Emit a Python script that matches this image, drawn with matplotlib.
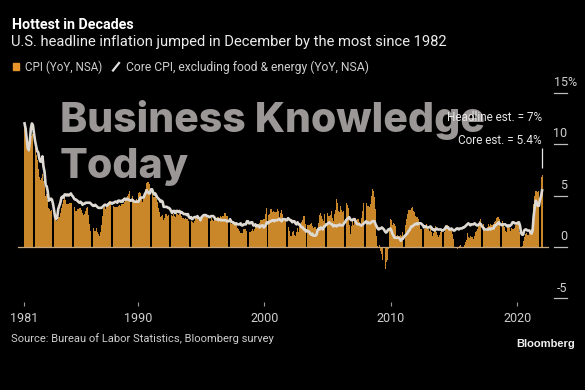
import numpy as np
import matplotlib
matplotlib.use("Agg")
import matplotlib.pyplot as plt

# ------------------------------------------------------------
# Data: monthly YoY %, Jan 1981 - Dec 2021
# ------------------------------------------------------------
start_year = 1981
cpi_rows = [
    [11.8, 11.4, 10.5, 10.0, 9.8, 9.6, 10.8, 10.8, 11.0, 10.1, 9.6, 8.9],   # 1981
    [8.4, 7.6, 6.8, 6.5, 6.7, 7.1, 6.4, 5.9, 5.0, 5.1, 4.6, 3.8],
    [3.7, 3.5, 3.6, 3.9, 3.5, 2.6, 2.5, 2.6, 2.9, 2.9, 3.3, 3.8],
    [4.2, 4.6, 4.8, 4.6, 4.2, 4.2, 4.2, 4.3, 4.3, 4.3, 4.1, 3.9],
    [3.5, 3.5, 3.7, 3.7, 3.8, 3.8, 3.6, 3.3, 3.1, 3.2, 3.5, 3.8],
    [3.9, 3.1, 2.2, 1.6, 1.5, 1.8, 1.6, 1.6, 1.8, 1.5, 1.3, 1.1],
    [1.5, 2.1, 3.0, 3.8, 3.9, 3.7, 3.9, 4.3, 4.4, 4.5, 4.5, 4.4],
    [4.0, 3.9, 3.9, 3.9, 3.9, 4.0, 4.1, 4.0, 4.2, 4.2, 4.2, 4.4],
    [4.7, 4.8, 5.0, 5.1, 5.4, 5.2, 5.0, 4.7, 4.3, 4.5, 4.7, 4.6],
    [5.2, 5.3, 5.2, 4.7, 4.4, 4.7, 4.8, 5.6, 6.2, 6.3, 6.3, 6.1],   # 1990
    [5.7, 5.3, 4.9, 4.9, 5.0, 4.7, 4.4, 3.8, 3.4, 2.9, 3.0, 3.1],
    [2.6, 2.8, 3.2, 3.2, 3.0, 3.1, 3.2, 3.1, 3.0, 3.2, 3.0, 2.9],
    [3.3, 3.2, 3.1, 3.2, 3.2, 3.0, 2.8, 2.8, 2.7, 2.8, 2.7, 2.7],
    [2.5, 2.5, 2.5, 2.4, 2.3, 2.5, 2.8, 2.9, 3.0, 2.6, 2.7, 2.7],
    [2.8, 2.9, 2.9, 3.1, 3.2, 3.0, 2.8, 2.6, 2.5, 2.8, 2.6, 2.5],
    [2.7, 2.7, 2.8, 2.9, 2.9, 2.8, 3.0, 2.9, 3.0, 3.0, 3.3, 3.3],
    [3.0, 3.0, 2.8, 2.5, 2.2, 2.3, 2.2, 2.2, 2.2, 2.1, 1.8, 1.7],
    [1.6, 1.4, 1.4, 1.4, 1.7, 1.7, 1.7, 1.6, 1.5, 1.5, 1.5, 1.6],
    [1.7, 1.6, 1.7, 2.3, 2.1, 2.0, 2.1, 2.3, 2.6, 2.6, 2.6, 2.7],
    [2.7, 3.2, 3.8, 3.1, 3.2, 3.7, 3.7, 3.4, 3.5, 3.4, 3.4, 3.4],   # 2000
    [3.7, 3.5, 2.9, 3.3, 3.6, 3.2, 2.7, 2.7, 2.6, 2.1, 1.9, 1.6],
    [1.1, 1.1, 1.5, 1.6, 1.2, 1.1, 1.5, 1.8, 1.5, 2.0, 2.2, 2.4],
    [2.6, 3.0, 3.0, 2.2, 2.1, 2.1, 2.1, 2.2, 2.3, 2.0, 1.8, 1.9],
    [1.9, 1.7, 1.7, 2.3, 3.1, 3.3, 3.0, 2.7, 2.5, 3.2, 3.5, 3.3],
    [3.0, 3.0, 3.1, 3.5, 2.8, 2.5, 3.2, 3.6, 4.7, 4.3, 3.5, 3.4],
    [4.0, 3.6, 3.4, 3.5, 4.2, 4.3, 4.1, 3.8, 2.1, 1.3, 2.0, 2.5],
    [2.1, 2.4, 2.8, 2.6, 2.7, 2.7, 2.4, 2.0, 2.8, 3.5, 4.3, 4.1],
    [4.3, 4.0, 4.0, 3.9, 4.2, 5.0, 5.6, 5.4, 4.9, 3.7, 1.1, 0.1],
    [0.0, 0.2, -0.4, -0.7, -1.3, -1.4, -2.1, -1.5, -1.3, -0.2, 1.8, 2.7],
    [2.6, 2.1, 2.3, 2.2, 2.0, 1.1, 1.2, 1.1, 1.1, 1.2, 1.1, 1.5],   # 2010
    [1.6, 2.1, 2.7, 3.2, 3.6, 3.6, 3.6, 3.8, 3.9, 3.5, 3.4, 3.0],
    [2.9, 2.9, 2.7, 2.3, 1.7, 1.7, 1.4, 1.7, 2.0, 2.2, 1.8, 1.7],
    [1.6, 2.0, 1.5, 1.1, 1.4, 1.8, 2.0, 1.5, 1.2, 1.0, 1.2, 1.5],
    [1.6, 1.1, 1.5, 2.0, 2.1, 2.1, 2.0, 1.7, 1.7, 1.7, 1.3, 0.8],
    [-0.1, 0.0, -0.1, -0.2, 0.0, 0.1, 0.2, 0.2, 0.0, 0.2, 0.5, 0.7],
    [1.4, 1.0, 0.9, 1.1, 1.0, 1.0, 0.8, 1.1, 1.5, 1.6, 1.7, 2.1],
    [2.5, 2.7, 2.4, 2.2, 1.9, 1.6, 1.7, 1.9, 2.2, 2.0, 2.2, 2.1],
    [2.1, 2.2, 2.4, 2.5, 2.8, 2.9, 2.9, 2.7, 2.3, 2.5, 2.2, 1.9],
    [1.6, 1.5, 1.9, 2.0, 1.8, 1.6, 1.8, 1.7, 1.7, 1.8, 2.1, 2.3],
    [2.5, 2.3, 1.5, 0.3, 0.1, 0.6, 1.0, 1.3, 1.4, 1.2, 1.2, 1.4],   # 2020
    [1.4, 1.7, 2.6, 4.2, 5.0, 5.4, 5.4, 5.3, 5.4, 6.2, 6.8, 7.0],
]
core_rows = [
    [12.0, 11.5, 10.5, 9.6, 9.4, 10.2, 11.5, 12.0, 11.8, 11.0, 10.3, 9.8],  # 1981
    [9.3, 9.2, 8.6, 8.3, 8.3, 8.8, 7.8, 7.3, 6.0, 5.9, 5.4, 4.5],
    [4.6, 4.7, 4.6, 4.2, 3.6, 2.9, 2.7, 2.9, 3.7, 4.0, 4.3, 4.8],
    [4.9, 4.8, 5.1, 5.1, 5.0, 5.1, 5.0, 5.1, 5.2, 5.0, 4.9, 4.7],
    [4.6, 4.6, 4.5, 4.4, 4.3, 4.4, 4.3, 4.1, 4.2, 4.2, 4.3, 4.3],
    [4.3, 4.3, 4.3, 4.2, 4.1, 4.0, 4.0, 4.1, 4.0, 3.9, 3.8, 3.8],
    [3.8, 3.8, 3.9, 4.0, 4.1, 4.1, 4.0, 4.1, 4.2, 4.3, 4.3, 4.2],
    [4.3, 4.3, 4.4, 4.4, 4.3, 4.5, 4.5, 4.4, 4.5, 4.4, 4.6, 4.7],
    [4.6, 4.7, 4.6, 4.6, 4.5, 4.5, 4.6, 4.5, 4.4, 4.4, 4.4, 4.4],
    [4.4, 4.6, 4.8, 4.8, 4.8, 4.8, 5.1, 5.3, 5.5, 5.3, 5.2, 5.2],   # 1990
    [5.6, 5.6, 5.3, 5.1, 5.2, 5.0, 4.8, 4.7, 4.6, 4.4, 4.5, 4.4],
    [3.9, 3.9, 3.9, 3.9, 3.8, 3.8, 3.7, 3.5, 3.3, 3.5, 3.5, 3.3],
    [3.5, 3.5, 3.4, 3.5, 3.3, 3.4, 3.3, 3.2, 3.2, 3.2, 3.1, 3.2],
    [2.9, 2.8, 2.9, 2.7, 2.8, 2.9, 2.9, 2.9, 3.0, 2.8, 2.8, 2.6],
    [2.9, 3.0, 3.1, 3.1, 3.1, 3.0, 3.0, 2.9, 2.9, 3.0, 3.0, 3.0],
    [2.9, 2.7, 2.7, 2.7, 2.6, 2.7, 2.6, 2.6, 2.6, 2.6, 2.6, 2.6],
    [2.5, 2.5, 2.5, 2.7, 2.5, 2.4, 2.4, 2.3, 2.2, 2.3, 2.2, 2.2],
    [2.2, 2.3, 2.1, 2.1, 2.2, 2.2, 2.2, 2.5, 2.5, 2.3, 2.3, 2.4],
    [2.4, 2.1, 2.1, 2.2, 2.0, 2.1, 2.1, 1.9, 2.0, 2.1, 2.1, 1.9],
    [2.0, 2.2, 2.4, 2.3, 2.4, 2.5, 2.5, 2.6, 2.6, 2.5, 2.6, 2.6],   # 2000
    [2.6, 2.7, 2.7, 2.6, 2.5, 2.7, 2.7, 2.7, 2.6, 2.6, 2.8, 2.7],
    [2.6, 2.6, 2.4, 2.5, 2.5, 2.3, 2.2, 2.4, 2.2, 2.2, 2.0, 1.9],
    [1.9, 1.7, 1.7, 1.5, 1.6, 1.5, 1.5, 1.3, 1.2, 1.3, 1.1, 1.1],
    [1.1, 1.2, 1.6, 1.8, 1.7, 1.9, 1.8, 1.7, 2.0, 2.0, 2.2, 2.2],
    [2.3, 2.4, 2.3, 2.2, 2.2, 2.0, 2.1, 2.1, 2.0, 2.1, 2.1, 2.2],
    [2.1, 2.1, 2.1, 2.3, 2.4, 2.6, 2.7, 2.8, 2.9, 2.7, 2.6, 2.6],
    [2.7, 2.7, 2.5, 2.3, 2.2, 2.2, 2.2, 2.1, 2.1, 2.2, 2.3, 2.4],
    [2.5, 2.3, 2.4, 2.3, 2.3, 2.4, 2.5, 2.5, 2.5, 2.2, 2.0, 1.8],
    [1.7, 1.8, 1.8, 1.9, 1.8, 1.7, 1.5, 1.4, 1.5, 1.7, 1.7, 1.8],
    [1.6, 1.3, 1.1, 0.9, 0.9, 0.9, 0.9, 0.9, 0.8, 0.6, 0.8, 0.8],   # 2010
    [1.0, 1.1, 1.2, 1.3, 1.5, 1.6, 1.8, 2.0, 2.0, 2.1, 2.2, 2.2],
    [2.3, 2.2, 2.3, 2.3, 2.3, 2.2, 2.1, 1.9, 2.0, 2.0, 1.9, 1.9],
    [1.9, 2.0, 1.9, 1.7, 1.7, 1.6, 1.7, 1.8, 1.7, 1.7, 1.7, 1.7],
    [1.6, 1.6, 1.7, 1.8, 2.0, 1.9, 1.9, 1.7, 1.7, 1.8, 1.7, 1.6],
    [1.6, 1.7, 1.8, 1.8, 1.7, 1.8, 1.8, 1.8, 1.9, 1.9, 2.0, 2.1],
    [2.2, 2.3, 2.2, 2.1, 2.2, 2.2, 2.2, 2.3, 2.2, 2.1, 2.1, 2.2],
    [2.3, 2.2, 2.0, 1.9, 1.7, 1.7, 1.7, 1.7, 1.7, 1.8, 1.7, 1.8],
    [1.8, 1.8, 2.1, 2.1, 2.2, 2.3, 2.4, 2.2, 2.2, 2.1, 2.2, 2.2],
    [2.2, 2.1, 2.0, 2.1, 2.0, 2.1, 2.2, 2.4, 2.4, 2.3, 2.3, 2.3],
    [2.3, 2.4, 2.1, 1.4, 1.2, 1.2, 1.6, 1.7, 1.7, 1.6, 1.6, 1.6],   # 2020
    [1.4, 1.3, 1.6, 3.0, 3.8, 4.5, 4.3, 4.0, 4.0, 4.6, 4.9, 5.5],
]
cpi_yoy = np.concatenate(cpi_rows)
core_yoy = np.concatenate(core_rows)

x_ticks = [1981, 1990, 2000, 2010, 2020]
y_ticks = [-5, 0, 5, 10, 15]
headline_est = 7
core_est = 5.4

TITLE = "Hottest in Decades"
SUBTITLE = "U.S. headline inflation jumped in December by the most since 1982"
SOURCE = "Source: Bureau of Labor Statistics, Bloomberg survey"

# colours
BG = "black"
ORANGE = "#c98729"
LINE = "#dedad3"
TXT = "#cfcfcf"

plt.rcParams["font.family"] = ["Roboto", "DejaVu Sans"]

W, H = 585, 390
fig = plt.figure(figsize=(W / 100, H / 100), dpi=100, facecolor=BG)

# axes placed by pixel box
left, right, top, bottom = 10, 575, 85, 302
ax = fig.add_axes([left / W, 1 - bottom / H, (right - left) / W, (bottom - top) / H])
ax.set_facecolor(BG)

x = start_year + (np.arange(len(cpi_yoy)) + 0.5) / 12
ax.bar(x, cpi_yoy, width=1 / 12 * 0.9, color=ORANGE, linewidth=0, zorder=2)
ax.plot(x, core_yoy, color=LINE, lw=1.9, zorder=3, solid_joinstyle="round")
ax.axhline(0, xmin=(18 - left) / (right - left), xmax=(548 - left) / (right - left),
           color="#c9a77c", lw=0.9, zorder=4)

ax.set_xlim(1979.893, 2024.56)
ax.set_ylim(-5.34, 15.73)
for s in ax.spines.values():
    s.set_visible(False)

ax.set_xticks(x_ticks)
ax.set_xticklabels([str(t) for t in x_ticks])
ax.tick_params(axis="x", colors="#9a9a9a", length=3, width=0.8, pad=4,
               labelcolor=TXT, labelsize=9)
ax.set_yticks([])

# right-hand y ticks: short dashes with labels sitting above
ytr = ax.get_yaxis_transform()
x0, x1 = (554 - left) / (right - left), (567 - left) / (right - left)
for v in y_ticks:
    ax.plot([x0, x1], [v, v], transform=ytr, color="#bdbdbd", lw=0.9, clip_on=False)
    top_tick = v == max(y_ticks)
    ax.annotate(f"{v}%" if top_tick else str(v), xy=(x0 if top_tick else x1, v), xycoords=ytr,
                xytext=(0, 7.5), textcoords="offset points",
                ha="left" if top_tick else "right", va="center",
                color=TXT, fontsize=9)

# watermark (under the annotations)
for txt, base in [("Business Knowledge", 132), ("Today", 178)]:
    ax.text(60 / W, 1 - base / H, txt, transform=fig.transFigure, fontsize=29.5,
            fontweight="heavy", family=["Inter", "DejaVu Sans"], color="#9c9797",
            va="baseline", ha="left", zorder=1)

# estimates annotation
ax.text(x[-1], headline_est + 5.6, f"Headline est. = {headline_est}%", ha="right", va="center",
        color="#e6e6e6", fontsize=8.5, zorder=6)
ax.text(x[-1], core_est + 4.9, f"Core est. = {core_est}%", ha="right", va="center",
        color="#e6e6e6", fontsize=8.5, zorder=6)
ax.vlines(x[-1], headline_est + 0.7, headline_est + 2.6, color="#e6e6e6", lw=0.9)

# header
fig.text(12 / W, 1 - 25 / H, TITLE, fontsize=10.3, fontweight="bold", color="white", va="center")
fig.text(11 / W, 1 - 42 / H, SUBTITLE, fontsize=10.6, color="#ececec", va="center")

# legend row
fig.patches.append(plt.Rectangle((13 / W, 1 - 70 / H), 6 / W, 7 / H, transform=fig.transFigure,
                                 color="#e8962a"))
fig.text(25 / W, 1 - 67 / H, "CPI (YoY, NSA)", fontsize=8.4, color=TXT, va="center")
fig.add_artist(plt.Line2D([113 / W, 119 / W], [1 - 70.5 / H, 1 - 63 / H], color="#e0e0e0", lw=1.6))
fig.text(126 / W, 1 - 67 / H, "Core CPI, excluding food & energy (YoY, NSA)", fontsize=8.7,
         color=TXT, va="center")

# footer
fig.text(11 / W, 1 - 339 / H, SOURCE, fontsize=8.0, color=TXT, va="center")
fig.text(575 / W, 1 - 344 / H, "Bloomberg", fontsize=8, fontweight="bold", color="#f0f0f0",
         family=["Liberation Sans", "DejaVu Sans"], va="center", ha="right")

fig.savefig("out.png", dpi=100, facecolor=BG)
